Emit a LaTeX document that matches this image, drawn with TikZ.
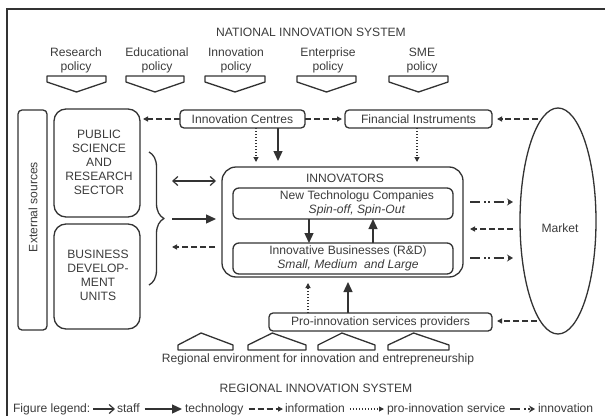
\documentclass[tikz,border=0pt]{standalone}
\usepackage{fontspec}
\setmainfont{Liberation Sans}
\usetikzlibrary{arrows.meta,shapes.geometric,decorations.pathreplacing,calc}
\definecolor{ink}{HTML}{333333}
\definecolor{txt}{HTML}{3C3C3C}
\begin{document}
\begin{tikzpicture}[x=1pt,y=-1pt,
  every node/.style={font=\fontsize{12.1}{13.9}\selectfont, text=txt, inner sep=0pt, outer sep=0pt},
  line/.style={draw=ink, line width=1.3pt, line join=round},
  rbox/.style={line, rounded corners=#1},
  staff/.style={draw=ink, line width=1.2pt, -{Straight Barb[length=5pt,width=9pt]}},
  staffboth/.style={draw=ink, line width=1.2pt, {Straight Barb[length=5pt,width=9pt]}-{Straight Barb[length=5pt,width=9pt]}},
  tech/.style={draw=ink, line width=1.3pt, -{Triangle[length=10pt,width=9pt]}},
  info/.style={draw=ink, line width=1.2pt, dash pattern=on 6pt off 3pt, -{Triangle[length=5pt,width=5pt]}},
  service/.style={draw=ink, line width=1.1pt, dash pattern=on 1.1pt off 1.9pt, -{Triangle[length=5pt,width=5pt]}},
  innov/.style={draw=ink, line width=1.2pt, dash pattern=on 10pt off 4pt on 1.5pt off 2.5pt on 1.5pt off 4pt, -{Stealth[length=6pt,width=7pt,inset=2pt]}},
  leg/.style={anchor=base west, text height=8.5pt, text depth=2.5pt}
]
\useasboundingbox (0,0) rectangle (605,415);
\clip (0,0) rectangle (605,415);
\fill[white] (0,0) rectangle (605,415);
% frame
\draw[draw=ink, line width=1.8pt] (7,9) rectangle (640,440);

% national level
\node (nat) at (311,32) {NATIONAL INNOVATION SYSTEM};
\node[align=center] (p1) at (76,60.5) {Research\\policy};
\node[align=center] (p2) at (157,60.5) {Educational\\policy};
\node[align=center] (p3) at (236,60.5) {Innovation\\policy};
\node[align=center] (p4) at (328,60.5) {Enterprise\\policy};
\node[align=center] (p5) at (422,60.5) {SME\\policy};
\foreach \a/\b in {47/106,126/184,205/265,297/356,389/448}
  \draw[line] (\a,76) -- (\b,76) -- (\b,82) -- ({(\a+\b)/2},92) -- (\a,82) -- cycle;

% left boxes
\node[rbox=4pt, minimum width=29pt, minimum height=220pt] (ext) at (32.5,220) {};
\node[rotate=90] (extt) at (33,207) {External sources};
\node[rbox=12pt, minimum width=86pt, minimum height=108pt] (pub) at (97,163) {};
\node[align=center] (pubt) at (99,162.5) {PUBLIC\\SCIENCE\\AND\\RESEARCH\\SECTOR};
\node[rbox=12pt, minimum width=86pt, minimum height=105pt] (bus) at (97,276.5) {};
\node[align=center] (bust) at (98,275.5) {BUSINESS\\DEVELOP-\\MENT\\UNITS};

% top boxes
\node[rbox=4pt, minimum width=125pt, minimum height=18pt] (ic) at (242.5,119) {Innovation Centres};
\node[rbox=4pt, minimum width=147pt, minimum height=18pt] (fi) at (418.5,119) {Financial Instruments};

% innovators
\node[rbox=14pt, minimum width=241pt, minimum height=110pt] (inn) at (342.5,222) {};
\node (innt) at (345,178) {INNOVATORS};
\node[rbox=6pt, minimum width=220pt, minimum height=31pt] (ntc) at (343,203.5) {};
\node[align=center] (ntct) at (357,203) {New Technologu Companies\\\textit{Spin-off, Spin-Out}};
\node[rbox=6pt, minimum width=220pt, minimum height=31pt] (ib) at (343,258.5) {};
\node[align=center] (ibt) at (348,258.5) {Innovative Businesses (R\&D)\\\textit{Small, Medium\ \ and Large}};

% market
\node[line, ellipse, minimum width=76pt, minimum height=226pt] (market) at (558,221) {};
\node (mkt) at (560,228) {Market};

% bottom
\node[rbox=4pt, minimum width=223pt, minimum height=18pt] (pro) at (380.5,322) {Pro-innovation services providers};
\foreach \a/\b in {178/233,248/306,318/375,388/449}
  \draw[line] (\a,350) -- (\b,350) -- (\b,345) -- ({\a+0.42*(\b-\a)},333) -- (\a,345) -- cycle;
\node (reg) at (318,359) {Regional environment for innovation and entrepreneurship};
\node (ris) at (316,388) {REGIONAL INNOVATION SYSTEM};

% brace
\draw[line, decorate, decoration={brace, amplitude=15pt, aspect=0.5}] (149,152) -- (149,285);
\coordinate (L1) at (172,181);
\coordinate (L2) at (172,219);
\coordinate (L3) at (172,247);
\draw[staffboth, shorten >=6pt] (L1) -- (L1 -| inn.west);
\draw[tech, shorten >=6pt] (L2) -- (L2 -| inn.west);
\draw[info, shorten <=7pt] (L3 -| inn.west) -- (L3);

% top connectors
\draw[info, shorten >=3pt] (ic.west) -- (ic.west -| pub.east);
\draw[info, shorten >=3pt] (ic.east) -- (fi.west);
\coordinate (M0) at (538,119);
\draw[info, shorten >=5pt] (M0) -- (M0 -| fi.east);
\draw[service, shorten >=5pt] ([xshift=13.5pt]ic.south) -- ([xshift=13.5pt]ic.south |- inn.north);
\draw[tech, shorten >=6pt] ([xshift=35.5pt]ic.south) -- ([xshift=35.5pt]ic.south |- inn.north);
\draw[service, shorten >=5pt] ([xshift=-1.5pt]fi.south) -- ([xshift=-1.5pt]fi.south |- inn.north);

% inner connectors
\draw[tech] ([xshift=-34pt]ntc.south) -- ([xshift=-34pt]ib.north);
\draw[tech] ([xshift=30pt]ib.north) -- ([xshift=30pt]ntc.south);

% market connectors
\coordinate (M1) at (513,202);
\coordinate (M2) at (513,229);
\coordinate (M3) at (513,258);
\coordinate (M4) at (537,321);
\draw[innov, shorten <=7pt] (M1 -| inn.east) -- (M1);
\draw[info, shorten >=7pt] (M2) -- (M2 -| inn.east);
\draw[innov, shorten <=7pt] (M3 -| inn.east) -- (M3);
\draw[info, shorten >=5pt] (M4) -- (M4 -| pro.east);

% bottom connectors
\draw[service, shorten >=6pt] ([xshift=-72.5pt]pro.north) -- ([xshift=-72.5pt]pro.north |- inn.south);
\draw[tech, shorten >=5pt] ([xshift=-32.5pt]pro.north) -- ([xshift=-32.5pt]pro.north |- inn.south);

% legend
\node[leg] (lg) at (13,412) {Figure legend:};
\node[leg] (lstaff) at (117,412) {staff};
\node[leg] (ltech) at (185,412) {technology};
\node[leg] (linfo) at (285,412) {information};
\node[leg] (lserv) at (387,412) {pro-innovation service};
\node[leg] (linnov) at (538,412) {innovation};
\draw[staff, shorten <=3pt, shorten >=2pt] (lg.east) -- (lstaff.west);
\draw[tech, shorten <=5pt, shorten >=3pt] (lstaff.east) -- (ltech.west);
\draw[info, shorten <=5pt, shorten >=2pt] (ltech.east) -- (linfo.west);
\draw[service, shorten <=5pt, shorten >=3pt] (linfo.east) -- (lserv.west);
\draw[innov, shorten <=5pt, shorten >=3pt] (lserv.east) -- (linnov.west);
\end{tikzpicture}
\end{document}
